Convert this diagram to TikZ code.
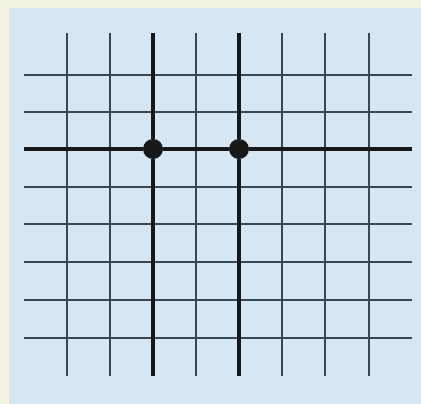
\documentclass[tikz,border=0pt]{standalone}
\usetikzlibrary{positioning}

\definecolor{paneblue}{RGB}{213,231,244}
\definecolor{edgecream}{RGB}{241,242,226}
\definecolor{gridgray}{RGB}{58,70,80}
\definecolor{stoneblack}{RGB}{22,24,26}

\begin{document}
\begin{tikzpicture}[
  x = 1pt, y = -1pt,
  gridline/.style = {draw=gridgray, line width=1.7pt},
  boldline/.style = {draw=stoneblack, line width=3.6pt},
  stone/.style    = {circle, fill=stoneblack, inner sep=0pt, minimum size=20pt},
]
  % frame and pane
  \fill[edgecream] (0,0) rectangle (421,404);
  \fill[paneblue]  (9,8) rectangle (421,404);
  \useasboundingbox (0,0) rectangle (421,404);

  % thin grid
  \foreach \x in {67,110,196,282,325,369}
    \draw[gridline] (\x,33) -- (\x,376);
  \foreach \y in {75,112,187,224,262,300,338}
    \draw[gridline] (24,\y) -- (412,\y);

  % bold lines and stones
  \node[stone] (stoneA) at (153,149) {};
  \node[stone] (stoneB) at (239,149) {};
  \coordinate (rowW)  at (24,149);
  \coordinate (rowE)  at (412,149);
  \coordinate (colAN) at (153,33);
  \coordinate (colAS) at (153,376);
  \coordinate (colBN) at (239,33);
  \coordinate (colBS) at (239,376);

  \draw[boldline] (rowW) -- (stoneA) -- (stoneB) -- (rowE);
  \draw[boldline] (colAN) -- (stoneA) -- (colAS);
  \draw[boldline] (colBN) -- (stoneB) -- (colBS);
\end{tikzpicture}
\end{document}
